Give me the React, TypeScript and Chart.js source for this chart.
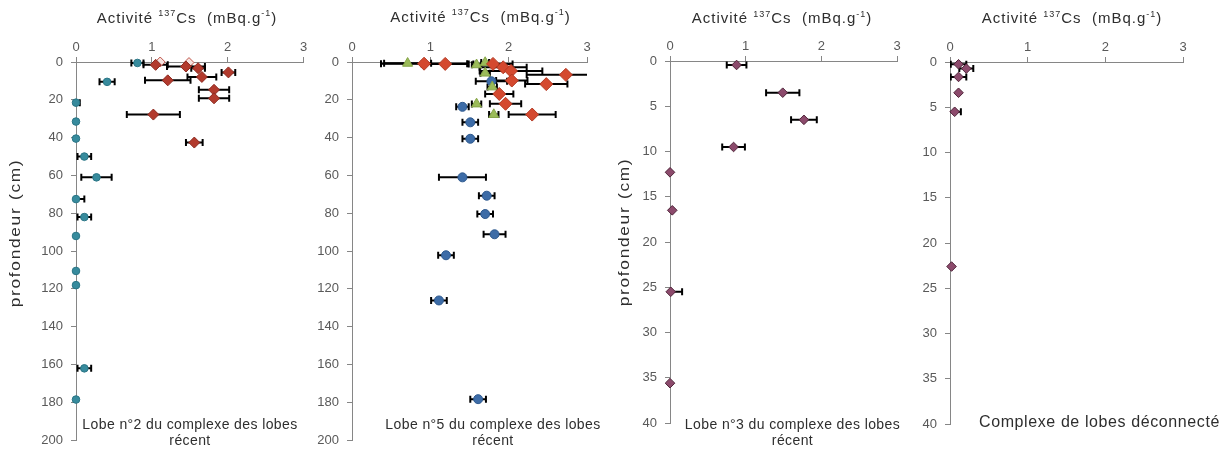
import React, { useEffect, useRef } from "react";
import { Chart, registerables } from "chart.js";
Chart.register(...registerables);

const FONT = "'Liberation Sans', Arial, Helvetica, sans-serif";
const AXIS = "#868686";
const TICK = "#595959";
const TEXT = "#2e2e2e";

// ---------- Panel 1 : Lobe n°2 ----------
const p1BlueDepth = [0.5, 10.5, 21.5, 31.5, 40.5, 50, 61, 72.5, 82, 92, 110.5, 118, 162, 178.5];
const p1BlueAct = [0.81, 0.41, 0, 0, 0, 0.11, 0.27, 0, 0.11, 0, 0, 0, 0.11, 0];
const p1BlueErr = [0.08, 0.1, 0.05, 0, 0, 0.09, 0.2, 0.11, 0.09, 0, 0, 0, 0.09, 0];

const p1RedDepth = [1.5, 2.4, 3.3, 5.5, 7.9, 9.7, 14.7, 19.2, 27.8, 42.6];
const p1RedAct = [1.05, 1.45, 1.61, 2.01, 1.66, 1.21, 1.82, 1.82, 1.02, 1.56];
const p1RedErr = [0.16, 0.25, 0.09, 0.09, 0.19, 0.3, 0.2, 0.2, 0.35, 0.11];

const p1OpenDepth = [0, 0.3];
const p1OpenAct = [1.11, 1.49];
const p1OpenErr = [0, 0];

// ---------- Panel 2 : Lobe n°5 ----------
const p2BlueDepth = [10.2, 23.7, 31.9, 40.6, 61, 70.7, 80.4, 91.1, 102.2, 126.1, 178.3];
const p2BlueAct = [1.78, 1.41, 1.51, 1.51, 1.41, 1.72, 1.7, 1.82, 1.2, 1.11, 1.61];
const p2BlueErr = [0.2, 0.08, 0.1, 0.1, 0.3, 0.1, 0.1, 0.14, 0.1, 0.1, 0.1];

const p2GreenDepth = [0.7, 1.5, 0.3, 5.9, 13.2, 22.2, 27.8];
const p2GreenAct = [0.71, 1.59, 1.7, 1.7, 1.79, 1.59, 1.81];
const p2GreenErr = [0.3, 0.06, 0.05, 0.06, 0.06, 0.06, 0.06];

const p2RedDepth = [0.9, 1.0, 1.0, 2.8, 4.7, 6.8, 9.8, 11.7, 16.9, 22.1, 27.8];
const p2RedAct = [0.92, 1.19, 1.8, 1.93, 2.03, 2.73, 2.04, 2.48, 1.88, 1.96, 2.3];
const p2RedErr = [0.55, 0.3, 0.25, 0.3, 0.4, 0.5, 0.2, 0.27, 0.18, 0.2, 0.3];

// ---------- Panel 3 : Lobe n°3 ----------
const p3Depth = [0.44, 3.5, 6.5, 9.5, 12.3, 16.5, 25.5, 35.6];
const p3Act = [0.88, 1.49, 1.77, 0.84, 0, 0.03, 0.01, 0];
const p3Err = [0.13, 0.22, 0.17, 0.15, 0, 0, 0.15, 0];

// ---------- Panel 4 : Complexe déconnecté ----------
const p4Depth = [0.25, 0.73, 1.65, 3.4, 5.5, 22.6];
const p4Act = [0.11, 0.21, 0.11, 0.11, 0.06, 0.02];
const p4Err = [0.1, 0.09, 0.1, 0, 0.08, 0];

// ---------- Axis ticks ----------
const xTickValues = [0, 1, 2, 3];
const yTicksDeep = [0, 20, 40, 60, 80, 100, 120, 140, 160, 180, 200];
const yTicksShallow = [0, 5, 10, 15, 20, 25, 30, 35, 40];

// ---------- Texts ----------
const xTitleParts = [
  { t: "Activité " },
  { t: "137", sup: true },
  { t: "Cs  (mBq.g" },
  { t: "-1", sup: true },
  { t: ")" },
];
const yTitleText = "profondeur (cm)";
const caption1 = ["Lobe n°2 du complexe des lobes", "récent"];
const caption2 = ["Lobe n°5 du complexe des lobes", "récent"];
const caption3 = ["Lobe n°3 du complexe des lobes", "récent"];
const caption4 = ["Complexe de lobes déconnecté"];

type Part = { t: string; sup?: boolean };
type TextItem = {
  x: number;
  y: number;
  parts: Part[];
  size: number;
  rotate?: boolean;
  align?: "center" | "left";
  spacing?: number;
  stretch?: number;
  color?: string;
};

const textPlugin = {
  id: "customTexts",
  afterDraw(chart: any, _args: any, opts: any) {
    const items: TextItem[] = (opts && opts.items) || [];
    const ctx = chart.ctx as CanvasRenderingContext2D;
    for (const it of items) {
      ctx.save();
      ctx.fillStyle = it.color || TEXT;
      ctx.textBaseline = "middle";
      ctx.textAlign = "left";
      (ctx as any).letterSpacing = (it.spacing ?? 0) + "px";
      const supSize = Math.round(it.size * 0.62);
      const widths = it.parts.map((p) => {
        ctx.font = `${p.sup ? supSize : it.size}px ${FONT}`;
        return ctx.measureText(p.t).width;
      });
      const total = widths.reduce((a, b) => a + b, 0);
      ctx.translate(it.x, it.y);
      if (it.rotate) ctx.rotate(-Math.PI / 2);
      if (it.stretch) ctx.scale(it.stretch, 1);
      let x = it.align === "left" ? 0 : -total / 2;
      it.parts.forEach((p, i) => {
        ctx.font = `${p.sup ? supSize : it.size}px ${FONT}`;
        ctx.fillText(p.t, x, p.sup ? -it.size * 0.3 : 0);
        x += widths[i];
      });
      ctx.restore();
    }
  },
};

const errorBarPlugin = {
  id: "errorBars",
  beforeDatasetsDraw(chart: any) {
    const { ctx, chartArea, scales } = chart;
    ctx.save();
    ctx.beginPath();
    ctx.rect(chartArea.left, chartArea.top - 12, chartArea.right - chartArea.left, chartArea.bottom - chartArea.top + 24);
    ctx.clip();
    ctx.strokeStyle = "#000";
    ctx.lineWidth = 2;
    const cap = 3.5;
    chart.data.datasets.forEach((ds: any) => {
      const errs: number[] = ds.errors;
      if (!errs) return;
      ds.data.forEach((pt: any, i: number) => {
        const e = errs[i];
        if (!e) return;
        const y = scales.y.getPixelForValue(pt.y);
        const x1 = scales.x.getPixelForValue(pt.x - e);
        const x2 = scales.x.getPixelForValue(pt.x + e);
        ctx.beginPath();
        ctx.moveTo(x1, y);
        ctx.lineTo(x2, y);
        ctx.moveTo(x1, y - cap);
        ctx.lineTo(x1, y + cap);
        ctx.moveTo(x2, y - cap);
        ctx.lineTo(x2, y + cap);
        ctx.stroke();
      });
    });
    ctx.restore();
  },
};

type Series = {
  depth: number[];
  act: number[];
  err: number[];
  style: string;
  radius: number;
  fill: string;
  stroke: string;
};

type Panel = {
  width: number;
  left: number;
  yW: number;
  xH: number;
  padRight: number;
  padBottom: number;
  ymax: number;
  yticks: number[];
  series: Series[];
  texts: TextItem[];
};

function makeConfig(p: Panel): any {
  return {
    type: "scatter",
    data: {
      datasets: p.series.map((s) => ({
        data: s.act.map((a, i) => ({ x: a, y: s.depth[i] })),
        errors: s.err,
        pointStyle: s.style,
        pointRadius: s.radius,
        pointHoverRadius: s.radius,
        backgroundColor: s.fill,
        borderColor: s.stroke,
        borderWidth: 1,
        clip: false,
        showLine: false,
      })),
    },
    options: {
      animation: false,
      responsive: false,
      maintainAspectRatio: false,
      events: [],
      layout: { padding: { left: 0, top: 0, right: p.padRight, bottom: p.padBottom } },
      plugins: {
        legend: { display: false },
        tooltip: { enabled: false },
        customTexts: { items: p.texts },
      },
      scales: {
        x: {
          type: "linear",
          position: "top",
          min: 0,
          max: 3,
          afterBuildTicks: (s: any) => {
            s.ticks = xTickValues.map((v) => ({ value: v }));
          },
          ticks: { color: TICK, font: { family: FONT, size: 13 }, padding: 2 },
          grid: { display: true, drawOnChartArea: false, drawTicks: true, tickLength: 5, color: AXIS },
          border: { display: true, color: AXIS, width: 1 },
          afterFit: (s: any) => {
            s.height = p.xH;
          },
        },
        y: {
          type: "linear",
          reverse: true,
          min: 0,
          max: p.ymax,
          afterBuildTicks: (s: any) => {
            s.ticks = p.yticks.map((v) => ({ value: v }));
          },
          ticks: { color: TICK, font: { family: FONT, size: 13 }, padding: 8 },
          grid: { display: true, drawOnChartArea: false, drawTicks: true, tickLength: 5, color: AXIS },
          border: { display: true, color: AXIS, width: 1 },
          afterFit: (s: any) => {
            s.width = p.yW;
          },
        },
      },
    },
    plugins: [errorBarPlugin, textPlugin],
  };
}

function titleItem(x: number, y: number): TextItem {
  return { x, y, parts: xTitleParts, size: 15, spacing: 1 };
}
function yTitleItem(x: number, y: number): TextItem {
  return { x, y, parts: [{ t: yTitleText }], size: 15, rotate: true, spacing: 1.5, stretch: 1.15 };
}
function captionItems(lines: string[], x: number, y: number, align: "center" | "left", size: number, spacing = 0.4): TextItem[] {
  return lines.map((l, i) => ({ x, y: y + i * 16.5, parts: [{ t: l }], size, align, spacing }));
}

const RED1 = { fill: "#b23a2d", stroke: "#8c2a20" };
const TEAL = { fill: "#378b9d", stroke: "#2a7585" };
const RED2 = { fill: "#d4492f", stroke: "#b33a24" };
const GREEN = { fill: "#9bbb59", stroke: "#86a548" };
const BLUE = { fill: "#3d6ca7", stroke: "#2e598e" };
const PURPLE = { fill: "#8c4a6c", stroke: "#4f2439" };

const panels: Panel[] = [
  {
    width: 310,
    left: 0,
    yW: 76,
    xH: 62,
    padRight: 5,
    padBottom: 9,
    ymax: 200,
    yticks: yTicksDeep,
    series: [
      { depth: p1RedDepth, act: p1RedAct, err: p1RedErr, style: "rectRot", radius: 5.5, ...RED1 },
      { depth: p1OpenDepth, act: p1OpenAct, err: p1OpenErr, style: "rectRot", radius: 5, fill: "#f6e4e1", stroke: "#c0574b" },
      { depth: p1BlueDepth, act: p1BlueAct, err: p1BlueErr, style: "circle", radius: 3.8, ...TEAL },
    ],
    texts: [titleItem(187, 18.5), yTitleItem(16, 233), ...captionItems(caption1, 190, 425, "center", 14)],
  },
  {
    width: 300,
    left: 310,
    yW: 42,
    xH: 62,
    padRight: 23,
    padBottom: 13,
    ymax: 200,
    yticks: yTicksDeep,
    series: [
      { depth: p2RedDepth, act: p2RedAct, err: p2RedErr, style: "rectRot", radius: 6.5, ...RED2 },
      { depth: p2GreenDepth, act: p2GreenAct, err: p2GreenErr, style: "triangle", radius: 5.8, ...GREEN },
      { depth: p2BlueDepth, act: p2BlueAct, err: p2BlueErr, style: "circle", radius: 4.5, ...BLUE },
    ],
    texts: [titleItem(170.5, 17.5), ...captionItems(caption2, 183, 425, "center", 14)],
  },
  {
    width: 300,
    left: 610,
    yW: 60,
    xH: 61,
    padRight: 13,
    padBottom: 33,
    ymax: 40,
    yticks: yTicksShallow,
    series: [{ depth: p3Depth, act: p3Act, err: p3Err, style: "rectRot", radius: 4.8, ...PURPLE }],
    texts: [titleItem(172, 19), yTitleItem(15, 232), ...captionItems(caption3, 182.5, 425, "center", 14)],
  },
  {
    width: 316,
    left: 910,
    yW: 40,
    xH: 62,
    padRight: 43,
    padBottom: 32,
    ymax: 40,
    yticks: yTicksShallow,
    series: [{ depth: p4Depth, act: p4Act, err: p4Err, style: "rectRot", radius: 4.8, ...PURPLE }],
    texts: [titleItem(162, 19), ...captionItems(caption4, 69, 423, "left", 16, 0.6)],
  },
];

function PanelChart({ panel }: { panel: Panel }) {
  const ref = useRef<HTMLCanvasElement | null>(null);
  useEffect(() => {
    if (!ref.current) return;
    const chart = new Chart(ref.current, makeConfig(panel));
    return () => chart.destroy();
  }, [panel]);
  return (
    <canvas
      ref={ref}
      width={panel.width}
      height={456}
      style={{ position: "absolute", left: panel.left, top: 0, width: panel.width, height: 456, display: "block" }}
    />
  );
}

export default function App() {
  return (
    <div style={{ position: "absolute", left: 0, top: 0, width: 1226, height: 456, background: "#fff", overflow: "hidden" }}>
      {panels.map((p, i) => (
        <PanelChart key={i} panel={p} />
      ))}
    </div>
  );
}
